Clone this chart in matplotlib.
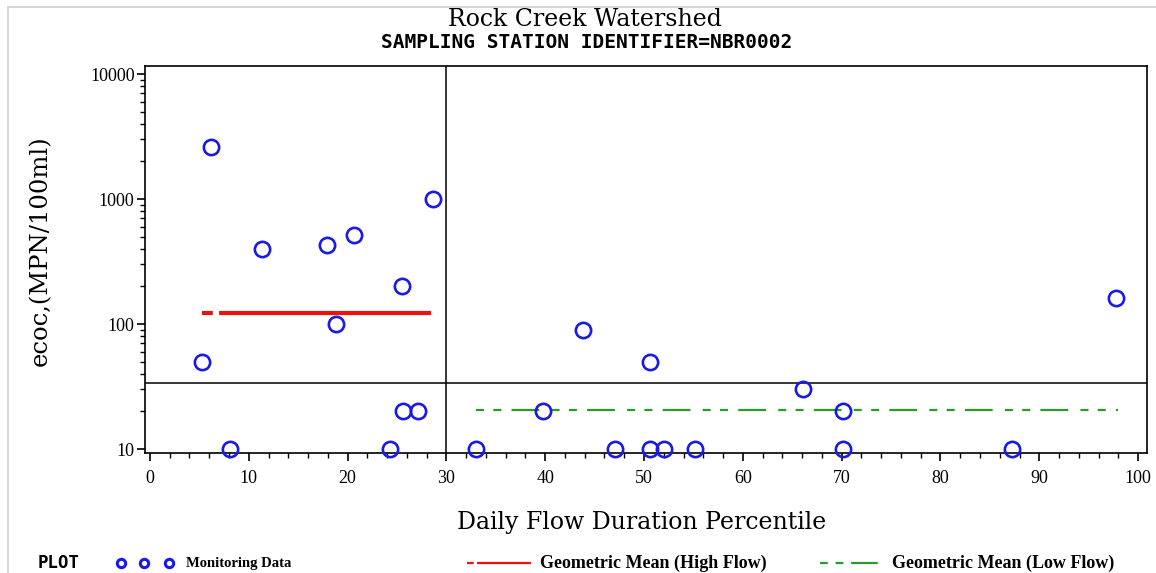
import matplotlib
matplotlib.use("Agg")
import matplotlib.pyplot as plt
from matplotlib.lines import Line2D
from matplotlib.ticker import FixedLocator, LogLocator, MultipleLocator, NullFormatter, FixedFormatter

# ---------------- data ----------------
high_x = [5.3, 6.2, 8.1, 11.3, 17.9, 18.8, 20.7, 24.3, 25.5, 25.6, 27.1, 28.6]
high_y = [50, 2600, 10, 400, 425, 100, 520, 10, 200, 20, 20, 1000]
low_x = [33.0, 39.8, 43.8, 47.1, 50.6, 50.6, 52.0, 55.2, 66.1, 70.1, 70.1, 87.2, 97.8]
low_y = [10, 20, 90, 10, 50, 10, 10, 10, 30, 20, 10, 10, 160]

gm_high_x = [5.3, 28.4]
gm_high_y = [122, 122]
gm_low_x = [33.0, 98.0]
gm_low_y = [20.4, 20.4]

flow_split = 30
ref_level = 33.5

x_ticks = [0, 10, 20, 30, 40, 50, 60, 70, 80, 90, 100]
y_ticks = [10, 100, 1000, 10000]
y_tick_labels = ["10", "100", "1000", "10000"]

W, H = 1156, 573
fig = plt.figure(figsize=(W / 100, H / 100), dpi=100)
fig.patch.set_facecolor("white")

def fx(px):
    return px / W

def fy(py):
    return 1 - py / H

ax = fig.add_axes([fx(145), fy(453), (1147 - 145) / W, (453 - 66) / H])
ax.set_yscale("log")
ax.set_xlim(-0.5, 100.9)
ax.set_ylim(9.29, 11590)

for s in ax.spines.values():
    s.set_linewidth(1.2)
    s.set_color("black")

ax.xaxis.set_major_locator(FixedLocator(x_ticks))
ax.xaxis.set_minor_locator(MultipleLocator(2))
ax.yaxis.set_major_locator(FixedLocator(y_ticks))
ax.yaxis.set_major_formatter(FixedFormatter(y_tick_labels))
ax.yaxis.set_minor_locator(LogLocator(base=10, subs=range(2, 10)))
ax.yaxis.set_minor_formatter(NullFormatter())
ax.tick_params(which="major", direction="out", length=6, width=1.2, labelsize=13)
ax.tick_params(axis="x", which="major", pad=6)
ax.tick_params(axis="y", which="major", pad=1.5)
ax.tick_params(which="minor", direction="out", length=3.5, width=1.0)
for lab in ax.get_xticklabels() + ax.get_yticklabels():
    lab.set_fontfamily("Liberation Serif")

# reference lines
ax.axvline(flow_split, color="black", lw=1.1)
ax.axhline(ref_level, color="black", lw=1.1)

# geometric mean lines
l1, = ax.plot(gm_high_x, gm_high_y, color="#ee1111", lw=3.0, solid_capstyle="butt")
l1.set_dashes([2.6, 1.5, 80, 1.5])
l1.set_dash_capstyle("butt")
l2, = ax.plot(gm_low_x, gm_low_y, color="#2a9a2a", lw=1.6)
l2.set_dashes([3.6, 4.2, 3.6, 4.6, 12.5, 5.5])
l2.set_dash_capstyle("butt")

# monitoring data
ax.plot(high_x + low_x, high_y + low_y, linestyle="none", marker="o", markersize=11,
        markerfacecolor="none", markeredgecolor="#1a1ae6", markeredgewidth=1.9, clip_on=False,
        zorder=5)

# titles
fig.text(fx(585), fy(20), "Rock Creek Watershed", ha="center", va="center",
         fontfamily="DejaVu Serif", fontsize=17)
fig.text(fx(587), fy(42), "SAMPLING STATION IDENTIFIER=NBR0002", ha="center", va="center",
         fontfamily="DejaVu Sans Mono", fontsize=14, fontweight="bold")

# axis labels
fig.text(fx(642), fy(523), "Daily Flow Duration Percentile", ha="center", va="center",
         fontfamily="DejaVu Serif", fontsize=17)
fig.text(fx(40), fy(251), "ecoc,(MPN/100ml)", ha="center", va="center", rotation=90,
         fontfamily="DejaVu Serif", fontsize=17.5)

# outer light border
fig.add_artist(Line2D([fx(8), fx(8)], [fy(7), 0], color="#d0d0d0", lw=1.2))
fig.add_artist(Line2D([fx(8), 1], [fy(7), fy(7)], color="#d0d0d0", lw=1.2))

# legend row
ly = fy(563)
fig.text(fx(38), ly, "PLOT", ha="left", va="center", fontfamily="DejaVu Sans Mono",
         fontsize=12.5, fontweight="bold")
for px in (121, 144, 169):
    fig.add_artist(Line2D([fx(px)], [ly], marker="o", markersize=6, markerfacecolor="none",
                          markeredgecolor="#1a1ae6", markeredgewidth=2.2, linestyle="none"))
fig.text(fx(186), ly, "Monitoring Data", ha="left", va="center",
         fontfamily="Liberation Serif", fontsize=10.5, fontweight="bold")
leg_red = Line2D([fx(467), fx(531)], [ly, ly], color="#ee1111", lw=1.6)
leg_red.set_dashes([3, 1.5, 40, 1])
fig.add_artist(leg_red)
fig.text(fx(540), ly, "Geometric Mean (High Flow)", ha="left", va="center",
         fontfamily="Liberation Serif", fontsize=13, fontweight="bold")
leg_grn = Line2D([fx(820), fx(885)], [ly, ly], color="#2a9a2a", lw=1.6)
leg_grn.set_dashes([3.5, 3.5, 3.5, 3.5, 12, 4])
fig.add_artist(leg_grn)
fig.text(fx(892), ly, "Geometric Mean (Low Flow)", ha="left", va="center",
         fontfamily="Liberation Serif", fontsize=13, fontweight="bold")

fig.savefig("out.png", dpi=100)
